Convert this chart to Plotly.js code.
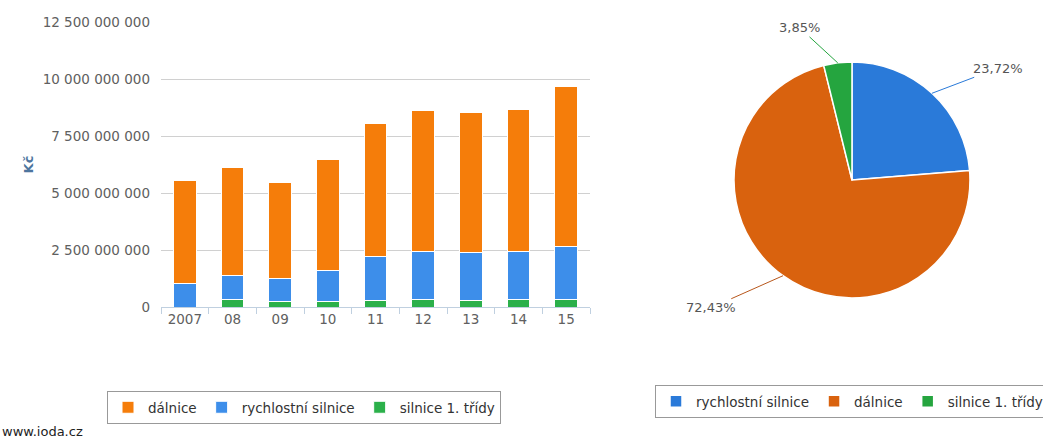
<!DOCTYPE html>
<html><head><meta charset="utf-8">
<script src="https://cdn.plot.ly/plotly-3.0.1.min.js"></script>
<style>html,body{margin:0;padding:0;background:#fff;}#chart{width:1043px;height:441px;}</style>
</head><body><div id="chart"></div>
<script>
const years = ['2007','08','09','10','11','12','13','14','15'];
const dalnice = [4.49e9, 4.71e9, 4.21e9, 4.87e9, 5.82e9, 6.20e9, 6.14e9, 6.25e9, 7.01e9];
const rychlostni = [1.04e9, 1.09e9, 1.01e9, 1.37e9, 1.93e9, 2.09e9, 2.09e9, 2.09e9, 2.30e9];
const silnice1 = [0, 0.31e9, 0.25e9, 0.25e9, 0.29e9, 0.34e9, 0.29e9, 0.34e9, 0.34e9];
const pieLabels = ['rychlostní silnice', 'dálnice', 'silnice 1. třídy'];
const pieValues = [23.72, 72.43, 3.85];

const W = 1043, H = 441;
const FONT = 'DejaVu Sans, Verdana, sans-serif';
const barColors = {d: '#f57d0a', r: '#3d8eea', s: '#2bb04a'};
const pieColors = ['#2a7ad9', '#d9620e', '#25a53f'];
const pieLineColors = ['#2a7ad9', '#b8571c', '#25a53f'];

const traces = [
  {type: 'bar', x: years, y: silnice1, name: 'silnice 1. třídy', marker: {color: barColors.s, line: {color: '#fff', width: 1}}, legend: 'legend'},
  {type: 'bar', x: years, y: rychlostni, name: 'rychlostní silnice', marker: {color: barColors.r, line: {color: '#fff', width: 1}}, legend: 'legend'},
  {type: 'bar', x: years, y: dalnice, name: 'dálnice', marker: {color: barColors.d, line: {color: '#fff', width: 1}}, legend: 'legend'}
];

const pieDom = {x: [0.7037, 0.9300], y: [0.3243, 0.8594]};
traces.push({
  type: 'pie', labels: pieLabels, values: pieValues, sort: false, direction: 'clockwise', rotation: 0,
  textinfo: 'none', hoverinfo: 'label+percent', domain: pieDom, legend: 'legend2',
  marker: {colors: pieColors, line: {color: '#fff', width: 1.5}}
});

// leader-label annotations computed from pie values
const cx = (pieDom.x[0] + pieDom.x[1]) / 2, cy = (pieDom.y[0] + pieDom.y[1]) / 2;
const r = Math.min((pieDom.x[1] - pieDom.x[0]) * W, (pieDom.y[1] - pieDom.y[0]) * H) / 2;
const total = pieValues.reduce((a, b) => a + b, 0);
const offsets = [[66, -25], [-72, 32], [-38, -35]];
const annotations = [];
let cum = 0;
pieValues.forEach((v, i) => {
  const mid = (cum + v / 2) / total * 2 * Math.PI;
  cum += v;
  annotations.push({
    xref: 'paper', yref: 'paper',
    x: cx + r * Math.sin(mid) / W, y: cy + r * Math.cos(mid) / H,
    ax: offsets[i][0], ay: offsets[i][1],
    text: v.toFixed(2).replace('.', ',') + '%',
    showarrow: true, arrowhead: 0, arrowwidth: 1, arrowcolor: pieLineColors[i],
    font: {family: FONT, size: 13, color: '#555'}
  });
});
annotations.push({
  xref: 'paper', yref: 'paper', x: 0, y: 0, xanchor: 'left', yanchor: 'bottom',
  text: 'www.ioda.cz', showarrow: false, font: {family: FONT, size: 13, color: '#222'}
});

const layout = {
  width: W, height: H, margin: {l: 0, r: 0, t: 0, b: 0, autoexpand: false},
  paper_bgcolor: '#fff', plot_bgcolor: '#fff',
  separators: ', ',
  font: {family: FONT, size: 13, color: '#606060'},
  barmode: 'stack', bargap: 0.53,
  showlegend: true,
  xaxis: {
    domain: [161 / W, 590 / W], type: 'category', automargin: false,
    showline: true, linecolor: '#c0d0e0', linewidth: 1,
    ticks: 'outside', tickson: 'boundaries', ticklen: 6, tickcolor: '#c0d0e0',
    showgrid: false, tickfont: {family: FONT, size: 13.5, color: '#606060'}
  },
  yaxis: {
    domain: [(H - 307) / H, (H - 22) / H], range: [0, 12.5e9], tick0: 0, dtick: 2.5e9, automargin: false,
    tickformat: ',.0f', showgrid: true, gridcolor: '#d0d0d0', zeroline: false,
    ticklabelstandoff: 10, tickfont: {family: FONT, size: 13.5, color: '#606060'},
    title: {text: 'Kč', standoff: 6, font: {family: FONT, size: 13, color: '#4d759e', weight: 'bold'}}
  },
  legend: {
    orientation: 'h', x: 107 / W, y: (H - 391) / H, xanchor: 'left', yanchor: 'top',
    traceorder: 'reversed', bordercolor: '#999', borderwidth: 1, bgcolor: '#fff',
    font: {family: FONT, size: 13.5, color: '#333'}
  },
  legend2: {
    orientation: 'h', x: 655 / W, y: (H - 385) / H, xanchor: 'left', yanchor: 'top',
    bordercolor: '#999', borderwidth: 1, bgcolor: '#fff',
    font: {family: FONT, size: 13.5, color: '#333'}
  },
  annotations: annotations
};

Plotly.newPlot('chart', traces, layout, {displayModeBar: false, staticPlot: true});
</script></body></html>
